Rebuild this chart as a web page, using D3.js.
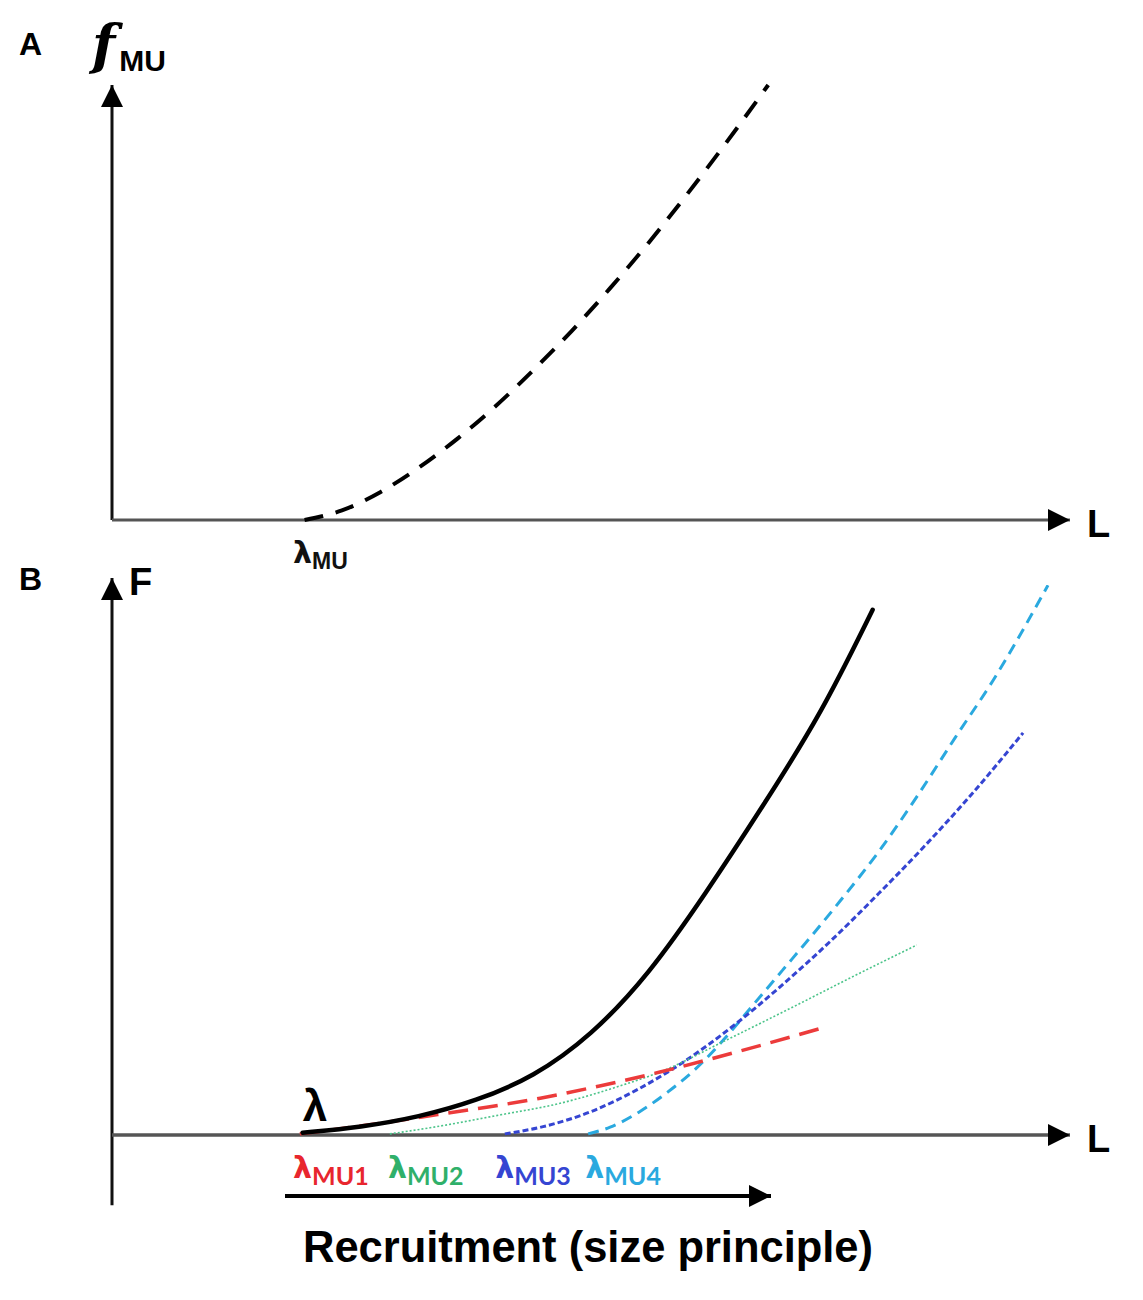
<!DOCTYPE html>
<html>
<head>
<meta charset="utf-8">
<script src="https://cdn.jsdelivr.net/npm/d3@7"></script>
<style>
  body { margin: 0; background: #fff; }
  text { font-family: "Liberation Sans", Arial, sans-serif; }
</style>
</head>
<body>
<div id="main-container"></div>
<script>
// panel A : single motor unit firing rate vs L
const lA = [20.1, 24, 28, 32, 36, 40, 44, 48, 52, 56, 60, 64, 68.5]
const fA = [0, 2.2, 6.4, 12.0, 18.6, 26.1, 34.5, 43.5, 53.3, 63.7, 74.8, 86.4, 100]

// panel B : total force and the four recruited units
const lTotal = [19.9, 26, 32, 38, 44, 50, 56, 62, 68, 74, 79.4]
const fTotal = [0.4, 1.4, 3.2, 6.1, 10.4, 17.8, 28.7, 43.4, 59.2, 75.5, 94.3]

const lMU1 = [19.6, 25.9, 32.2, 38.4, 44.7, 50.9, 57.2, 65.6, 74.1]
const fMU1 = [0.2, 1.6, 3.2, 4.8, 6.6, 8.8, 11.3, 15.1, 19.2]

const lMU2 = [29.0, 33.2, 40.5, 46.8, 53.0, 57.2, 64.2, 71.1, 78.1, 84.0]
const fMU2 = [0.2, 1.3, 3.6, 5.7, 8.8, 11.3, 17.1, 23.0, 29.1, 34.1]

const lMU3 = [41, 45, 50, 55, 60, 65, 70, 75, 80, 85, 90, 95.1]
const fMU3 = [0.2, 1.5, 4.2, 8.3, 13.5, 19.8, 27.0, 34.8, 43.3, 52.2, 61.7, 72.2]

const lMU4 = [49.7, 52, 55, 58, 61, 64, 67, 70, 73, 76, 80, 84, 88, 92, 97.7]
const fMU4 = [0.2, 1.4, 4.1, 7.7, 12.0, 17.4, 23.5, 29.6, 35.7, 42.0, 50.8, 60.7, 71.3, 81.7, 98.7]

const muNames = ['MU1', 'MU2', 'MU3', 'MU4']
const muLabelL = [18.9, 28.8, 40.0, 49.4]
const muColors = ['#e8262e', '#2fb06a', '#3545d2', '#2aa9df']

const width = 1143
const height = 1300

const svg = d3.select('#main-container').append('svg').attr('width', width).attr('height', height)

const defs = svg.append('defs')
defs.append('marker').attr('id', 'arrow').attr('viewBox', '0 0 10 10')
  .attr('refX', 10).attr('refY', 5)
  .attr('markerUnits', 'userSpaceOnUse')
  .attr('markerWidth', 24).attr('markerHeight', 22)
  .attr('orient', 'auto')
  .append('path').attr('d', 'M0,0 L10,5 L0,10 Z').attr('fill', '#000')

const xScale = d3.scaleLinear().domain([0, 100]).range([112, 1070])
const yA = d3.scaleLinear().domain([0, 100]).range([520, 85])
const yB = d3.scaleLinear().domain([0, 100]).range([1135, 578])

const zip = (ls, fs) => ls.map((l, i) => [l, fs[i]])

// axes
function axisLine(x1, y1, x2, y2, color, w) {
  svg.append('line').attr('x1', x1).attr('y1', y1).attr('x2', x2).attr('y2', y2)
    .attr('stroke', color).attr('stroke-width', w).attr('marker-end', 'url(#arrow)')
}
axisLine(xScale(0), yA(0), xScale(0), yA(100), '#111', 3)
axisLine(xScale(0), yA(0), xScale(100), yA(0), '#555', 3)
axisLine(xScale(0), yB(-12.6), xScale(0), yB(100), '#111', 3)
axisLine(xScale(0), yB(0), xScale(100), yB(0), '#555', 3.5)

const lineA = d3.line().x(d => xScale(d[0])).y(d => yA(d[1])).curve(d3.curveMonotoneX)
const lineB = d3.line().x(d => xScale(d[0])).y(d => yB(d[1])).curve(d3.curveMonotoneX)
const lineTotal = d3.line().x(d => xScale(d[0])).y(d => yB(d[1])).curve(d3.curveBasis)

svg.append('path').datum(zip(lA, fA)).attr('d', lineA)
  .attr('fill', 'none').attr('stroke', '#000').attr('stroke-width', 4).attr('stroke-dasharray', '19 13')

const muSeries = [
  { data: zip(lMU4, fMU4), color: muColors[3], w: 3, dash: '11 7' },
  { data: zip(lMU3, fMU3), color: muColors[2], w: 3, dash: '6 3' },
  { data: zip(lMU2, fMU2), color: '#4cc48a', w: 1.6, dash: '2 2' },
  { data: zip(lMU1, fMU1), color: '#ec3b3b', w: 3.5, dash: '20 10' }
]
muSeries.forEach(s => {
  svg.append('path').datum(s.data).attr('d', lineB)
    .attr('fill', 'none').attr('stroke', s.color).attr('stroke-width', s.w).attr('stroke-dasharray', s.dash)
})

svg.append('path').datum(zip(lTotal, fTotal)).attr('d', lineTotal)
  .attr('fill', 'none').attr('stroke', '#000').attr('stroke-width', 4.5).attr('stroke-linecap', 'round')

// labels
svg.append('text').text('A').attr('x', 19).attr('y', 55).attr('font-size', 32).attr('font-weight', 'bold')
svg.append('text').text('B').attr('x', 19).attr('y', 590).attr('font-size', 32).attr('font-weight', 'bold')

const fLabel = svg.append('text').attr('x', 92).attr('y', 63)
fLabel.append('tspan').text('f').attr('font-family', '"DejaVu Serif", serif').attr('font-style', 'italic')
  .attr('font-weight', 'bold').attr('font-size', 54)
fLabel.append('tspan').text('MU').attr('dx', 4).attr('dy', 8).attr('font-size', 30).attr('font-weight', 'bold')

svg.append('text').text('F').attr('x', 129).attr('y', 595).attr('font-size', 38).attr('font-weight', 'bold')
svg.append('text').text('L').attr('x', 1087).attr('y', 537).attr('font-size', 38).attr('font-weight', 'bold')
svg.append('text').text('L').attr('x', 1087).attr('y', 1152).attr('font-size', 38).attr('font-weight', 'bold')

const lamA = svg.append('text').attr('x', xScale(18.9)).attr('y', 563).attr('fill', '#111')
lamA.append('tspan').text('λ').attr('font-size', 30).attr('font-weight', 'bold').attr('font-family', '"DejaVu Sans", sans-serif')
lamA.append('tspan').text('MU').attr('dy', 6).attr('font-size', 23).attr('font-weight', 'bold')

svg.append('text').text('λ').attr('x', xScale(19.9)).attr('y', 1121).attr('font-size', 44)
  .attr('font-weight', 'bold').attr('font-family', '"DejaVu Sans", sans-serif')

muNames.forEach((n, i) => {
  const t = svg.append('text').attr('x', xScale(muLabelL[i])).attr('y', 1178).attr('fill', muColors[i])
  t.append('tspan').text('λ').attr('font-size', 30).attr('font-weight', 'bold').attr('font-family', '"DejaVu Sans", sans-serif')
  t.append('tspan').text(n).attr('dy', 7).attr('font-size', 25).attr('font-weight', 'bold')
    .attr('font-family', 'Lato, "Open Sans", sans-serif')
})

// recruitment arrow
svg.append('line').attr('x1', 285).attr('y1', 1196).attr('x2', 771).attr('y2', 1196)
  .attr('stroke', '#000').attr('stroke-width', 4).attr('marker-end', 'url(#arrow)')
svg.append('text').text('Recruitment (size principle)').attr('x', 303).attr('y', 1262)
  .attr('font-size', 44).attr('font-weight', 'bold').attr('font-family', 'Lato, "Open Sans", sans-serif')
  .attr('textLength', 570).attr('lengthAdjust', 'spacingAndGlyphs')
</script>
</body>
</html>
